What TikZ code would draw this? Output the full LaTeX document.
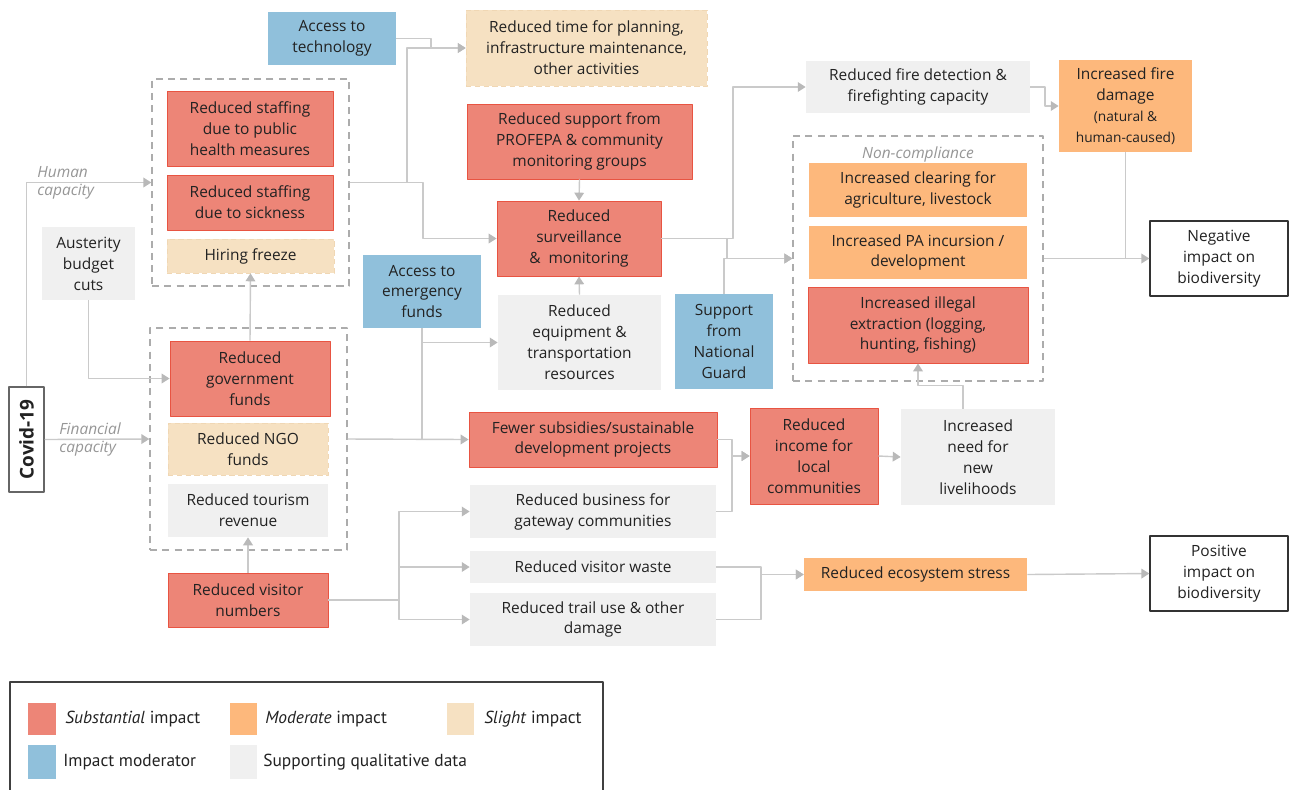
\documentclass[tikz,border=0pt]{standalone}
\usepackage{fontspec}
\setmainfont{Open Sans}
\newfontfamily\legfont{PT Sans}
\usepackage{graphicx}
\usetikzlibrary{arrows.meta}
\definecolor{subst}{RGB}{237,133,119}
\definecolor{substline}{RGB}{232,84,66}
\definecolor{moder}{RGB}{253,184,124}
\definecolor{slight}{RGB}{246,225,194}
\definecolor{slightline}{RGB}{240,215,180}
\definecolor{moderat}{RGB}{144,192,219}
\definecolor{supp}{RGB}{240,240,240}
\definecolor{lnkc}{RGB}{202,202,202}
\definecolor{arrc}{RGB}{185,185,185}
\definecolor{grpc}{RGB}{172,172,172}
\definecolor{txt}{RGB}{34,34,34}
\definecolor{capc}{RGB}{150,150,150}
\tikzset{
  wh/.style 2 args={minimum width=#1*0.02cm,minimum height=#2*0.02cm},
  box/.style={font=\fontsize{8.8}{11.9}\selectfont,text=txt,align=center,inner sep=1pt},
  sub/.style={box,fill=subst,draw=substline,line width=0.5pt},
  mod/.style={box,fill=moder},
  sli/.style={box,fill=slight,draw=slightline,densely dashed,line width=0.4pt},
  blu/.style={box,fill=moderat},
  gry/.style={box,fill=supp},
  outc/.style={box,fill=white,draw=black!80,line width=0.8pt},
  grp/.style={draw=grpc,dash pattern=on 4pt off 3pt,line width=0.8pt},
  lbl/.style={font=\fontsize{8.8}{10.5}\selectfont\itshape,text=capc,align=left,inner sep=0pt},
  legt/.style={font=\legfont\fontsize{9.9}{11}\selectfont,text=txt,anchor=west,inner sep=0pt},
  lnk/.style={draw=lnkc,line width=0.8pt},
  arr/.style={lnk,-{Triangle[length=4.5pt,width=5.5pt,color=arrc]}},
}
\begin{document}
\begin{tikzpicture}[x=0.02cm,y=-0.02cm,line join=round]
  \useasboundingbox (0,0) rectangle (1290,789);
  % left column
  \path
  (26.5,439.5) node[box,fill=white,draw=black!60,line width=0.6pt,wh={35}{105}] (covid) {\rotatebox{90}{\bfseries\fontsize{10.8}{12}\selectfont Covid-19}}
  (88.5,263.5) node[gry,wh={93}{73}] (auster) {Austerity\\budget\\cuts}
  (250.5,182.5) node[grp,wh={197}{207}] (human) {}
  (250,128.5) node[sub,wh={166}{75}] (staffA) {Reduced staffing\\due to public\\health measures}
  (250,202.5) node[sub,wh={166}{55}] (staffB) {Reduced staffing\\due to sickness}
  (250.5,256) node[sli,wh={167}{34}] (hiring) {Hiring freeze}
  (248.5,439) node[grp,wh={197}{222}] (fin) {}
  (250,378.5) node[sub,wh={160}{75}] (gov) {Reduced\\government\\funds}
  (248,449) node[sli,wh={160}{52}] (ngo) {Reduced NGO\\funds}
  (248,510.5) node[gry,wh={160}{53}] (tour) {Reduced tourism\\revenue}
  (248,600) node[sub,wh={160}{54}] (visit) {Reduced visitor\\numbers};
  \path
  (37,183) node[lbl,anchor=west] (hcap) {Human\\capacity}
  (59,439.5) node[lbl,anchor=west] (fcap) {Financial\\capacity};
  % middle
  \path
  (332,38.5) node[blu,wh={128}{53}] (techA) {Access to\\technology}
  (586.5,48) node[sli,wh={241}{76}] (plan) {Reduced time for planning,\\infrastructure maintenance,\\other activities}
  (422,291.5) node[blu,wh={118}{73}] (emerg) {Access to\\emergency\\funds}
  (579.5,141.5) node[sub,wh={225}{75}] (profepa) {Reduced support from\\PROFEPA \& community\\monitoring groups}
  (579,238.5) node[sub,wh={164}{75}] (surv) {Reduced\\surveillance\\\&~~monitoring}
  (579.5,342.5) node[gry,wh={163}{95}] (equip) {Reduced\\equipment \&\\transportation\\resources}
  (724,341.5) node[blu,wh={98}{95}] (guard) {Support\\from\\National\\Guard}
  (593,439.5) node[sub,wh={248}{55}] (fewer) {Fewer subsidies/sustainable\\development projects}
  (593,511.5) node[gry,wh={246}{53}] (gate) {Reduced business for\\gateway communities}
  (593,567) node[gry,wh={246}{32}] (waste) {Reduced visitor waste}
  (593,619.5) node[gry,wh={246}{53}] (trail) {Reduced trail use \& other\\damage}
  (814,456) node[sub,wh={128}{96}] (income) {Reduced\\income for\\local\\communities}
  (978,457) node[gry,wh={154}{96}] (need) {Increased\\need for\\new\\livelihoods}
  (915.5,574.5) node[mod,wh={223}{33}] (eco) {Reduced ecosystem stress};
  % right
  \path
  (918,87) node[gry,wh={224}{52}] (firedet) {Reduced fire detection \&\\firefighting capacity}
  (1125.5,106) node[mod,wh={133}{92}] (firedam) {Increased fire\\damage\\{\fontsize{7.8}{10.5}\selectfont(natural \&}\\{\fontsize{7.8}{10.5}\selectfont human-caused)}}
  (918,258.5) node[grp,wh={250}{245}] (noncomp) {}
  (918,154) node[lbl,align=center] (nclbl) {Non-compliance}
  (918,190) node[mod,wh={218}{54}] (clear) {Increased clearing for\\agriculture, livestock}
  (918,252.5) node[mod,wh={218}{53}] (incur) {Increased PA incursion /\\development}
  (918,325) node[sub,wh={220}{76}] (illegal) {Increased illegal\\extraction (logging,\\hunting, fishing)}
  (1219,258.5) node[outc,wh={138}{75}] (neg) {Negative\\impact on\\biodiversity}
  (1219,573.5) node[outc,wh={138}{75}] (pos) {Positive\\impact on\\biodiversity};
  % connectors
  \coordinate (sj) at (727,238.5);
  \coordinate (vj) at (399,600);
  \draw[arr] (covid.north) |- (human.west);
  \draw[arr] (covid.east) -- (fin.west);
  \draw[arr] (auster.south) |- (gov.west);
  \draw[arr] (gov.north) -- (hiring.south);
  \draw[arr] (visit.north) -- (tour.south);
  \draw[arr] (techA.east) -- (431,38.5) |- (plan.west);
  \draw[arr] (human.east) -- (407,182.5) |- (plan.west);
  \draw[arr] (human.east) -- (423,182.5) |- (surv.west);
  \draw[arr] (profepa.south) -- (surv.north);
  \draw[arr] (equip.north) -- (surv.south);
  \draw[lnk] (emerg.south) -- (emerg.south |- fewer.west);
  \draw[arr] (emerg.south) |- (equip.west);
  \draw[arr] (fin.east) -- (fewer.west);
  \draw[arr] (surv.east) -- (733,238.5) |- (firedet.west);
  \draw[arr] (sj) |- (noncomp.west);
  \draw[arr] (guard.north) |- (noncomp.west);
  \draw[arr] (firedet.east) -- (1045,87) |- (firedam.west);
  \draw[arr] (noncomp.east) -- (neg.west);
  \draw[lnk] (firedam.south) -- (firedam.south |- neg.west);
  \draw[arr] (need.north) ++(-15,0) -- ++(0,-23) -| (illegal.south);
  \draw[arr] (fewer.east) -- (732,439.5) |- (income.west);
  \draw[arr] (gate.east) -- (732,511.5) |- (income.west);
  \draw[arr] (income.east) -- (need.west);
  \draw[lnk] (visit.east) -- (vj);
  \draw[arr] (vj) |- (gate.west);
  \draw[arr] (vj) |- (waste.west);
  \draw[arr] (vj) |- (trail.west);
  \draw[arr] (waste.east) -- (761,567) |- (eco.west);
  \draw[arr] (trail.east) -- (761,619.5) |- (eco.west);
  \draw[arr] (eco.east) -- (pos.west);
  % legend
  \draw[black!75,line width=0.8pt] (10,790) -- (10,682) -- (603,682) -- (603,790);
  \fill[subst] (28,703) rectangle (56,735);
  \fill[moder] (230,703) rectangle (257,735);
  \fill[slight] (447,703) rectangle (474,735);
  \fill[moderat] (28,745) rectangle (56,779);
  \fill[supp] (230,745) rectangle (257,779);
  \path
  (65,719) node[legt] {\textit{Substantial} impact}
  (265,719) node[legt] {\textit{Moderate} impact}
  (484,719) node[legt] {\textit{Slight} impact}
  (63,762) node[legt] {Impact moderator}
  (263,762) node[legt] {Supporting qualitative data};
\end{tikzpicture}
\end{document}
